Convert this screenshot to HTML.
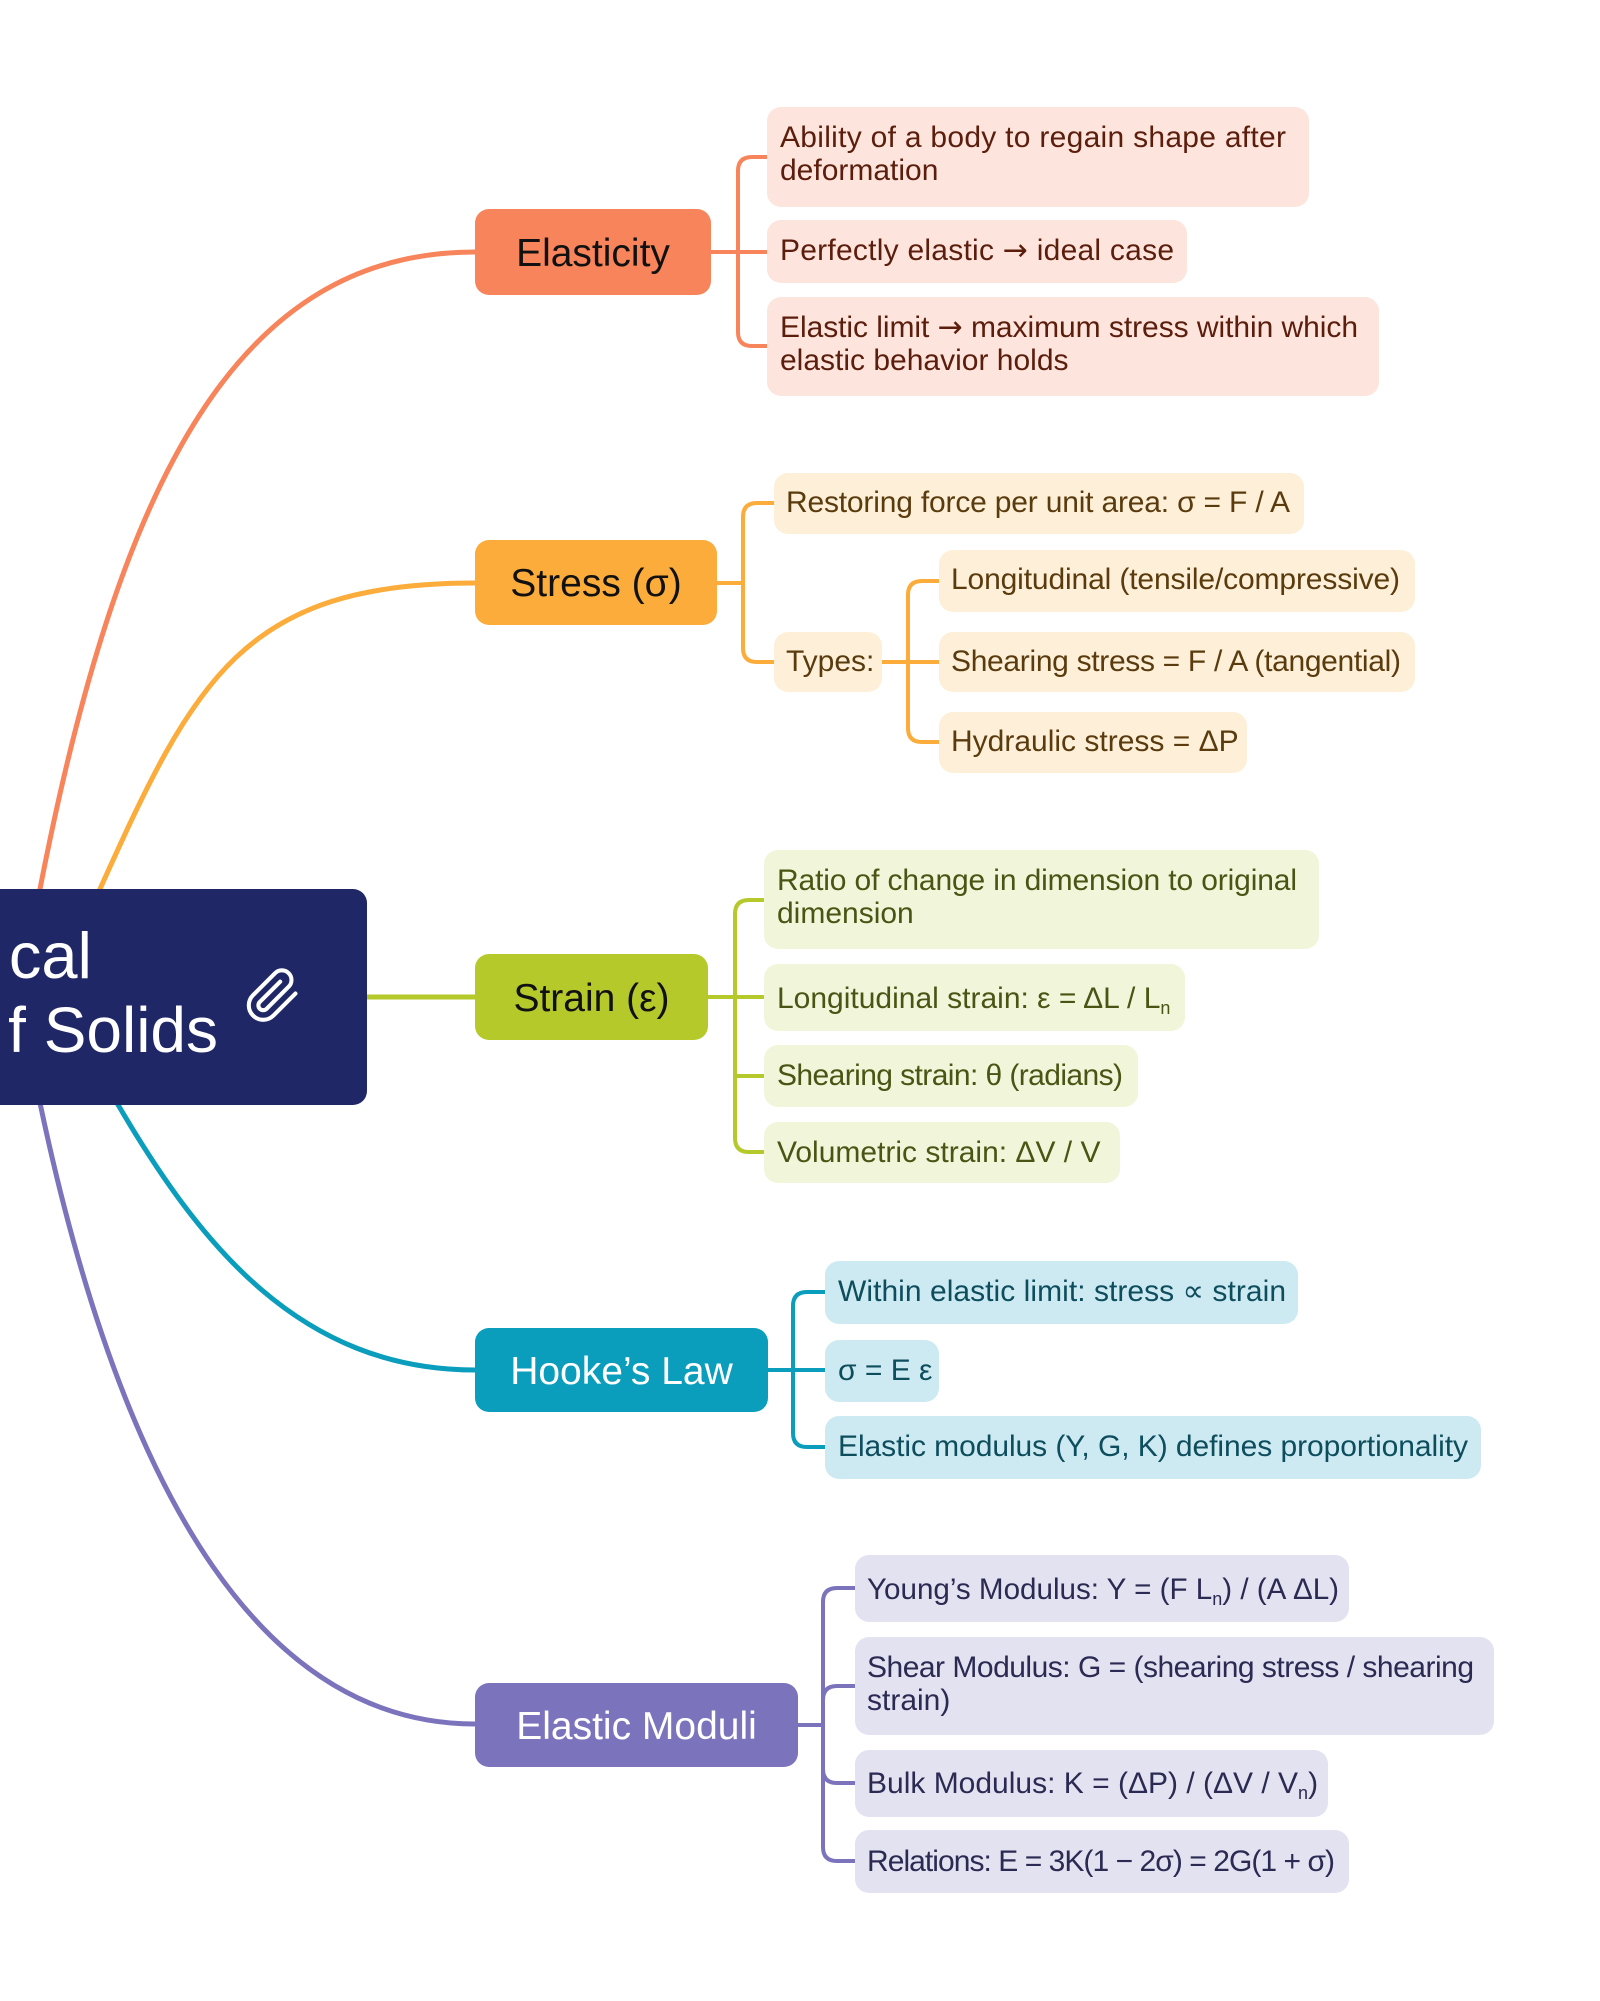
<!DOCTYPE html>
<html>
<head>
<meta charset="utf-8">
<style>
html,body{margin:0;padding:0;background:#ffffff;}
svg{display:block;}
text{font-family:"Liberation Sans","DejaVu Sans",sans-serif;}
.ar{font-family:"DejaVu Sans",sans-serif;}
</style>
</head>
<body>
<svg width="1600" height="2001" viewBox="0 0 1600 2001" xmlns="http://www.w3.org/2000/svg">
<rect x="0" y="0" width="1600" height="2001" fill="#ffffff"/>

<!-- main curves -->
<g fill="none" stroke-width="5" stroke-linecap="round">
  <path d="M34,920 L40,889 C121,472 241,252 475,252" stroke="#f7845a"/>
  <path d="M88,915 L100,889 C194,680 243,583 475,583" stroke="#fbac3a"/>
  <path d="M360,997 H475" stroke="#b6c92b"/>
  <path d="M100,1075 L117,1103 C200,1245 300,1370 475,1370" stroke="#0b9dbc"/>
  <path d="M34,1075 L40,1103 C126,1511 270,1724 475,1724" stroke="#7b74bd"/>
</g>

<!-- brackets -->
<g fill="none" stroke-width="4" stroke-linecap="round" stroke-linejoin="round">
  <g stroke="#f7845a">
    <path d="M711,252 H767"/>
    <path d="M767,157 H752 Q738,157 738,171 V332 Q738,346 752,346 H767"/>
  </g>
  <g stroke="#fbac3a">
    <path d="M717,583 H743"/>
    <path d="M774,503 H757 Q743,503 743,517 V648 Q743,662 757,662 H774"/>
    <path d="M882,662 H939"/>
    <path d="M939,581 H922 Q908,581 908,595 V728 Q908,742 922,742 H939"/>
  </g>
  <g stroke="#b6c92b">
    <path d="M708,997 H764"/>
    <path d="M764,900 H749 Q735,900 735,914 V1138 Q735,1152 749,1152 H764"/>
    <path d="M735,1076 H764"/>
  </g>
  <g stroke="#0b9dbc">
    <path d="M768,1370 H825"/>
    <path d="M825,1292 H807 Q793,1292 793,1306 V1433 Q793,1447 807,1447 H825"/>
  </g>
  <g stroke="#7b74bd">
    <path d="M798,1725 H823"/>
    <path d="M855,1588 H837 Q823,1588 823,1602 V1847 Q823,1861 837,1861 H855"/>
    <path d="M823,1700 Q823,1686 837,1686 H855"/>
    <path d="M823,1769 Q823,1783 837,1783 H855"/>
  </g>
</g>

<!-- central node -->
<rect x="-400" y="889" width="767" height="216" rx="14" fill="#1f2767"/>
<text x="92" y="978" font-size="65" fill="#ffffff" text-anchor="end">Mechani<tspan dx="16">cal</tspan></text>
<text x="218" y="1052" font-size="64" fill="#ffffff" text-anchor="end">Properties o<tspan dx="14">f Solids</tspan></text>
<g transform="translate(244,967) scale(2.4)" fill="none" stroke="#ffffff" stroke-width="1.7" stroke-linecap="round" stroke-linejoin="round">
  <path d="M21.44 11.05l-9.19 9.19a6 6 0 0 1-8.49-8.49l9.19-9.19a4 4 0 0 1 5.66 5.66l-9.2 9.19a2 2 0 0 1-2.83-2.83l8.49-8.48"/>
</g>

<!-- main branch nodes -->
<rect x="475" y="209" width="236" height="86" rx="14" fill="#f7845a"/>
<text x="593" y="266" font-size="39" fill="#111111" text-anchor="middle">Elasticity</text>

<rect x="475" y="540" width="242" height="85" rx="14" fill="#fbac3a"/>
<text x="596" y="596" font-size="39" fill="#111111" text-anchor="middle">Stress (σ)</text>

<rect x="475" y="954" width="233" height="86" rx="14" fill="#b6c92b"/>
<text x="591.5" y="1011" font-size="39" fill="#111111" text-anchor="middle">Strain (ε)</text>

<rect x="475" y="1328" width="293" height="84" rx="14" fill="#0b9dbc"/>
<text x="621.5" y="1384" font-size="39" fill="#ffffff" text-anchor="middle">Hooke’s Law</text>

<rect x="475" y="1683" width="323" height="84" rx="14" fill="#7b74bd"/>
<text x="636.5" y="1739" font-size="39" fill="#ffffff" text-anchor="middle">Elastic Moduli</text>

<!-- Elasticity children -->
<g font-size="30" fill="#5b1d0c">
  <rect x="767" y="107" width="542" height="100" rx="14" fill="#fde4dc"/>
  <text x="780" y="147" textLength="506" lengthAdjust="spacing">Ability of a body to regain shape after</text>
  <text x="780" y="180">deformation</text>
  <rect x="767" y="220" width="420" height="63" rx="14" fill="#fde4dc"/>
  <text x="780" y="260" textLength="394" lengthAdjust="spacing">Perfectly elastic <tspan class="ar">→</tspan> ideal case</text>
  <rect x="767" y="297" width="612" height="99" rx="14" fill="#fde4dc"/>
  <text x="780" y="337" textLength="578" lengthAdjust="spacing">Elastic limit <tspan class="ar">→</tspan> maximum stress within which</text>
  <text x="780" y="370">elastic behavior holds</text>
</g>

<!-- Stress children -->
<g font-size="30" fill="#5a3b0e">
  <rect x="774" y="473" width="530" height="61" rx="14" fill="#fdefd8"/>
  <text x="786" y="512" textLength="504" lengthAdjust="spacing">Restoring force per unit area: σ = F / A</text>
  <rect x="774" y="632" width="108" height="60" rx="14" fill="#fdefd8"/>
  <text x="786" y="671">Types:</text>
  <rect x="939" y="550" width="476" height="62" rx="14" fill="#fdefd8"/>
  <text x="951" y="589" textLength="449" lengthAdjust="spacing">Longitudinal (tensile/compressive)</text>
  <rect x="939" y="632" width="476" height="60" rx="14" fill="#fdefd8"/>
  <text x="951" y="671" textLength="450" lengthAdjust="spacing">Shearing stress = F / A (tangential)</text>
  <rect x="939" y="712" width="308" height="61" rx="14" fill="#fdefd8"/>
  <text x="951" y="751">Hydraulic stress = ΔP</text>
</g>

<!-- Strain children -->
<g font-size="30" fill="#4a5414">
  <rect x="764" y="850" width="555" height="99" rx="14" fill="#f1f5d9"/>
  <text x="777" y="890" textLength="520" lengthAdjust="spacing">Ratio of change in dimension to original</text>
  <text x="777" y="923">dimension</text>
  <rect x="764" y="964" width="421" height="67" rx="14" fill="#f1f5d9"/>
  <text x="777" y="1008">Longitudinal strain: ε = ΔL / L<tspan font-size="18" dy="6">n</tspan></text>
  <rect x="764" y="1045" width="374" height="62" rx="14" fill="#f1f5d9"/>
  <text x="777" y="1085" textLength="346" lengthAdjust="spacing">Shearing strain: θ (radians)</text>
  <rect x="764" y="1122" width="356" height="61" rx="14" fill="#f1f5d9"/>
  <text x="777" y="1162">Volumetric strain: ΔV / V</text>
</g>

<!-- Hooke children -->
<g font-size="30" fill="#0d4d5c">
  <rect x="825" y="1261" width="473" height="63" rx="14" fill="#cdeaf3"/>
  <text x="838" y="1301" textLength="448" lengthAdjust="spacing">Within elastic limit: stress ∝ strain</text>
  <rect x="825" y="1340" width="114" height="62" rx="14" fill="#cdeaf3"/>
  <text x="838" y="1380">σ = E ε</text>
  <rect x="825" y="1416" width="656" height="63" rx="14" fill="#cdeaf3"/>
  <text x="838" y="1456" textLength="630" lengthAdjust="spacing">Elastic modulus (Y, G, K) defines proportionality</text>
</g>

<!-- Elastic Moduli children -->
<g font-size="30" fill="#2a2a52">
  <rect x="855" y="1555" width="494" height="67" rx="14" fill="#e3e2f1"/>
  <text x="867" y="1599" font-size="29.6">Young’s Modulus: Y = (F L<tspan font-size="18" dy="6">n</tspan><tspan dy="-6">) / (A ΔL)</tspan></text>
  <rect x="855" y="1637" width="639" height="98" rx="14" fill="#e3e2f1"/>
  <text x="867" y="1677" textLength="607" lengthAdjust="spacing">Shear Modulus: G = (shearing stress / shearing</text>
  <text x="867" y="1710">strain)</text>
  <rect x="855" y="1750" width="473" height="67" rx="14" fill="#e3e2f1"/>
  <text x="867" y="1793">Bulk Modulus: K = (ΔP) / (ΔV / V<tspan font-size="18" dy="6">n</tspan><tspan dy="-6">)</tspan></text>
  <rect x="855" y="1830" width="494" height="63" rx="14" fill="#e3e2f1"/>
  <text x="867" y="1871" textLength="468" lengthAdjust="spacing">Relations: E = 3K(1 − 2σ) = 2G(1 + σ)</text>
</g>
</svg>
</body>
</html>
